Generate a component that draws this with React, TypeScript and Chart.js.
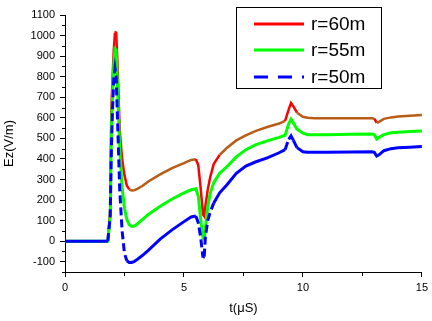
import React, { useEffect, useRef } from "react";
import { Chart, registerables } from "chart.js";

Chart.register(...registerables);

// time axis (μs)
const tUs = [
  0, 0.5, 1.0, 1.5, 1.8, 1.9, 1.95, 2.0, 2.05, 2.1, 2.15, 2.2, 2.3, 2.4, 2.5, 2.6, 2.7, 2.8, 2.9, 3.0,
  3.25, 3.5, 4.0, 4.5, 5.0, 5.3, 5.5, 5.6, 5.7, 5.8, 5.85, 5.9, 6.0, 6.1, 6.25, 6.5, 6.8, 7.2, 7.6,
  8.0, 8.5, 9.0, 9.25, 9.4, 9.5, 9.6, 9.75, 10.0, 10.2, 10.5, 11, 12, 12.9, 13.0, 13.1, 13.2, 13.4,
  13.7, 14, 14.5, 15,
];

// Ez (V/m) for r = 60 m
const ez60 = [
  0, 0, 0, 0, 0, 150, 650, 800, 930, 1015, 1020, 880, 540, 400, 320, 270, 252, 247, 248, 252,
  268, 290, 325, 355, 380, 395, 398, 370, 260, 130, 122, 170, 250, 310, 375, 420, 453, 490, 515,
  535, 555, 572, 585, 640, 672, 655, 625, 605, 600, 598, 598, 598, 598, 596, 575, 580, 595,
  602, 606, 610, 614,
];

// Ez (V/m) for r = 55 m
const ez55 = [
  0, 0, 0, 0, 0, 120, 550, 720, 860, 935, 930, 780, 450, 260, 160, 105, 80, 72, 73, 80,
  105, 130, 170, 205, 235, 250, 255, 220, 110, 15, 10, 60, 170, 230, 285, 330, 362, 410, 445,
  468, 488, 505, 515, 570, 594, 575, 545, 525, 518, 518, 518, 520, 521, 518, 497, 505, 518,
  527, 530, 533, 536,
];

// Ez (V/m) for r = 50 m
const ez50 = [
  0, 0, 0, 0, 0, 120, 450, 650, 790, 840, 800, 620, 250, 50, -60, -95, -104, -104, -100, -92,
  -70, -45, 10, 55, 95, 118, 122, 90, 20, -80, -75, 20, 100, 140, 185, 235, 273, 330, 365,
  385, 405, 430, 445, 495, 512, 490, 455, 435, 432, 432, 433, 434, 435, 432, 414, 420, 440,
  450, 454, 457, 460,
];

const seriesLabels = ["r=60m", "r=55m", "r=50m"];
const xTicks = [0, 5, 10, 15];

const FONT = "'Liberation Sans', Arial, sans-serif";

const steep = (ctx: any, k: number) =>
  Math.abs(ctx.p1.y - ctx.p0.y) > k * Math.abs(ctx.p1.x - ctx.p0.x);

const minorTicks = {
  id: "minorTicks",
  afterDraw(chart: any) {
    const { ctx } = chart;
    const xs = chart.scales.x;
    const ys = chart.scales.y;
    ctx.save();
    ctx.strokeStyle = "#000";
    ctx.lineWidth = 1;
    ctx.beginPath();
    for (let v = -150; v <= 1100; v += 100) {
      const y = Math.round(ys.getPixelForValue(v)) + 0.5;
      ctx.moveTo(ys.right, y);
      ctx.lineTo(ys.right - 3, y);
    }
    for (let v = 2.5; v < 15; v += 5) {
      const x = Math.round(xs.getPixelForValue(v)) + 0.5;
      ctx.moveTo(x, xs.top);
      ctx.lineTo(x, xs.top + 4);
    }
    ctx.stroke();
    ctx.restore();
  },
};

const boxLegend = {
  id: "boxLegend",
  afterDraw(chart: any) {
    const { ctx } = chart;
    const ds = chart.data.datasets;
    ctx.save();
    ctx.strokeStyle = "#000";
    ctx.lineWidth = 1;
    ctx.strokeRect(236.5, 7.5, 145, 81);
    ctx.font = `19px ${FONT}`;
    ctx.textBaseline = "middle";
    ctx.fillStyle = "#000";
    const rows = [24, 50, 77];
    ds.forEach((d: any, i: number) => {
      const y = rows[i];
      ctx.beginPath();
      ctx.strokeStyle = d.legendColor;
      ctx.lineWidth = 3;
      ctx.setLineDash(d.legendDash || []);
      ctx.moveTo(254, y);
      ctx.lineTo(304, y);
      ctx.stroke();
      ctx.setLineDash([]);
      ctx.fillText(d.label, 311, y + 1);
    });
    ctx.restore();
  },
};

export default function App() {
  const ref = useRef<HTMLCanvasElement>(null);

  useEffect(() => {
    if (!ref.current) return;
    const mk = (vals: number[]) => tUs.map((x, i) => ({ x, y: vals[i] }));
    const chart = new Chart(ref.current, {
      type: "line",
      data: {
        datasets: [
          {
            label: seriesLabels[0],
            data: mk(ez60),
            borderColor: "rgb(185,92,22)",
            legendColor: "rgb(255,0,0)",
            borderWidth: 2.5,
            order: 2,
            segment: {
              borderColor: (c: any) => (steep(c, 1.2) ? "rgb(255,0,0)" : undefined),
            },
          } as any,
          {
            label: seriesLabels[1],
            data: mk(ez55),
            borderColor: "rgb(0,255,0)",
            legendColor: "rgb(0,255,0)",
            borderWidth: 3,
            order: 1,
          } as any,
          {
            label: seriesLabels[2],
            data: mk(ez50),
            borderColor: "rgb(0,0,255)",
            legendColor: "rgb(0,0,255)",
            legendDash: [14, 10],
            borderWidth: 3,
            order: 0,
            segment: {
              borderDash: (c: any) => (steep(c, 2) ? [8, 4] : undefined),
            },
          } as any,
        ],
      },
      options: {
        animation: false,
        responsive: false,
        maintainAspectRatio: false,
        layout: { padding: { left: 0, right: 10, top: 15, bottom: 0 } },
        elements: { point: { radius: 0 }, line: { tension: 0 } },
        plugins: { legend: { display: false }, tooltip: { enabled: false } },
        scales: {
          x: {
            type: "linear",
            min: 0,
            max: 15,
            afterFit: (s: any) => {
              s.height = 49;
            },
            afterBuildTicks: (s: any) => {
              s.ticks = xTicks.map((v) => ({ value: v }));
            },
            border: { display: true, color: "#000", width: 1 },
            grid: { drawOnChartArea: false, drawTicks: true, tickLength: 5, color: "#000" },
            ticks: {
              color: "#000",
              font: { family: FONT, size: 11 },
              padding: 4,
              maxRotation: 0,
              callback: (v: any) => String(v),
            },
            title: {
              display: true,
              text: "t(μS)",
              color: "#000",
              font: { family: FONT, size: 13 },
              padding: { top: 0, bottom: 5 },
            },
          },
          y: {
            type: "linear",
            min: -150,
            max: 1100,
            afterFit: (s: any) => {
              s.width = 65;
            },
            border: { display: true, color: "#000", width: 1 },
            grid: { drawOnChartArea: false, drawTicks: true, tickLength: 5, color: "#000" },
            ticks: {
              stepSize: 100,
              includeBounds: false,
              color: "#000",
              font: { family: FONT, size: 11 },
              padding: 5,
              callback: (v: any) => String(v),
            },
            title: {
              display: true,
              text: "Ez(V/m)",
              color: "#000",
              font: { family: FONT, size: 13 },
              padding: { top: 2, bottom: 0 },
            },
          },
        },
      } as any,
      plugins: [minorTicks, boxLegend],
    });
    return () => chart.destroy();
  }, []);

  return (
    <div style={{ position: "fixed", left: 0, top: 0, width: 432, height: 321, background: "#fff" }}>
      <canvas ref={ref} width={432} height={321} style={{ width: 432, height: 321 }} />
    </div>
  );
}
